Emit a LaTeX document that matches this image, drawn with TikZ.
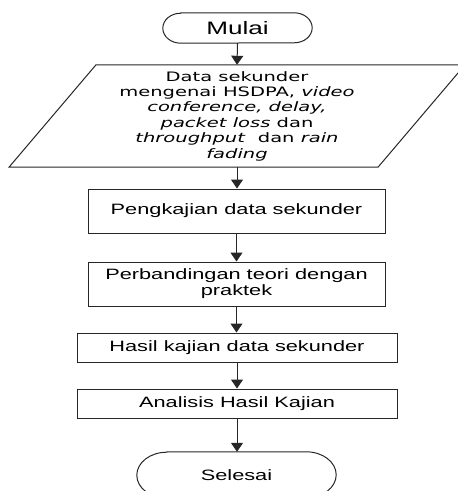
\documentclass[tikz,border=0pt]{standalone}
\usepackage{fontspec}
\usetikzlibrary{arrows.meta}
\newfontfamily\boxfont[FakeStretch=1.45]{Liberation Sans}
\newfontfamily\parfont[FakeStretch=1.5]{DejaVu Sans}
\tikzset{
  x=1pt, y=1pt,
  line/.style={draw=black!85, line width=1pt},
  arr/.style={line, -{Triangle[width=12pt,length=9pt]}},
  procbox/.style={line, rectangle, inner sep=0pt, align=center,
    font=\boxfont\fontsize{15}{16}\selectfont},
  termtext/.style={rectangle, inner sep=0pt, font=\boxfont},
  iotext/.style={rectangle, inner sep=0pt, align=center,
    font=\parfont\fontsize{13}{15.4}\selectfont}
}
\begin{document}
\begin{tikzpicture}
\useasboundingbox (0,0) rectangle (458,-491);
\clip (0,0) rectangle (458,-491);
% start terminal
\node[termtext, minimum width=149, minimum height=30, font=\boxfont\fontsize{18}{20}\selectfont] (start) at (237.5,-28) {Mulai};
\draw[line] ([xshift=18pt]start.north west) -- ([xshift=-18pt]start.north east)
  arc[start angle=90, end angle=-90, x radius=18pt, y radius=15pt]
  -- ([xshift=18pt]start.south west)
  arc[start angle=270, end angle=90, x radius=18pt, y radius=15pt] -- cycle;
% data input
\node[iotext, minimum height=102, minimum width=200] (data) at (237,-116)
  {Data sekunder\\mengenai HSDPA, \textit{video}\\\textit{conference, delay,}\\\textit{packet loss} dan\\\textit{throughput}\ \ dan \textit{rain}\\\textit{fading}};
\draw[line] ([xshift=-141pt]data.north) -- ([xshift=228pt]data.north)
  -- ([xshift=141pt]data.south) -- ([xshift=-228pt]data.south) -- cycle;
% process boxes
\node[procbox, minimum width=297, minimum height=44] (p1) at (236.5,-211) {Pengkajian data sekunder};
\node[procbox, minimum width=297, minimum height=44] (p2) at (236.5,-284) {Perbandingan teori dengan\\praktek};
\node[procbox, minimum width=320, minimum height=29] (p3) at (237,-347.5) {Hasil kajian data sekunder};
\node[procbox, minimum width=320, minimum height=29] (p4) at (237,-403.5) {Analisis Hasil Kajian};
% end terminal
\node[termtext, minimum width=199, minimum height=46, font=\boxfont\fontsize{15}{17}\selectfont] (end) at (236.5,-475) {Selesai};
\draw[line] ([xshift=30pt]end.north west) -- ([xshift=-30pt]end.north east)
  arc[start angle=90, end angle=-90, x radius=30pt, y radius=23pt]
  -- ([xshift=30pt]end.south west)
  arc[start angle=270, end angle=90, x radius=30pt, y radius=23pt] -- cycle;
% connectors
\draw[arr] (start.south) -- (data.north);
\draw[arr] (data.south) -- (data.south |- p1.north);
\draw[arr] (p1.south) -- (p2.north);
\draw[arr] (p2.south) -- (p2.south |- p3.north);
\draw[arr] (p3.south) -- (p4.north);
\draw[arr] (p4.south) -- (p4.south |- end.north);
\end{tikzpicture}
\end{document}
